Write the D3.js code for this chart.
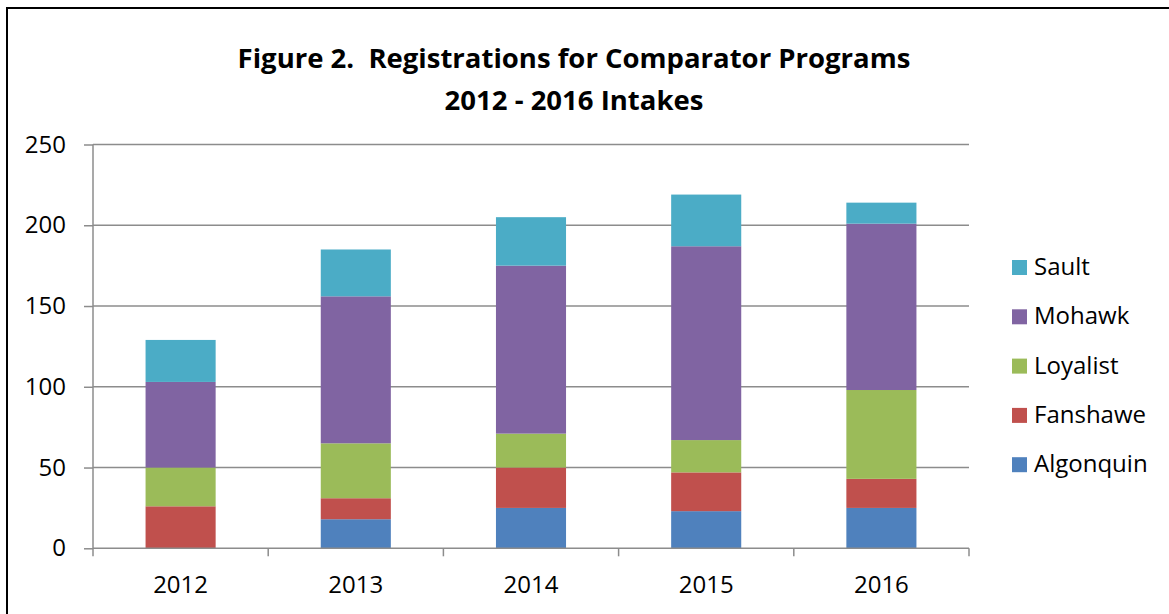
<!DOCTYPE html>
<html>
<head>
<meta charset="utf-8">
<script src="https://cdn.jsdelivr.net/npm/d3@7"></script>
<style>
  body { margin: 0; background: #fff; }
  text { font-family: "Open Sans", sans-serif; fill: #000; }
  .title { white-space: pre; }
</style>
</head>
<body>
<div id="chart"></div>
<script>
// data
const years = ["2012", "2013", "2014", "2015", "2016"];
const colleges = ["Algonquin", "Fanshawe", "Loyalist", "Mohawk", "Sault"];
const algonquin = [0, 18, 25, 23, 25];
const fanshawe = [26, 13, 25, 24, 18];
const loyalist = [24, 34, 21, 20, 55];
const mohawk = [53, 91, 104, 120, 103];
const sault = [26, 29, 30, 32, 13];
const yTicks = [0, 50, 100, 150, 200, 250];
const colors = ["#4F81BD", "#C0504D", "#9BBB59", "#8064A2", "#4BACC6"];

const series = [algonquin, fanshawe, loyalist, mohawk, sault];
const rows = years.map((y, i) => {
  const r = { year: y };
  colleges.forEach((c, j) => r[c] = series[j][i]);
  return r;
});

const W = 1169, H = 614;
const margin = { top: 144.5, right: 200, bottom: 65.7, left: 93 };
const width = W - margin.left - margin.right;
const height = H - margin.top - margin.bottom;

const svg = d3.select("#chart").append("svg")
  .attr("width", W)
  .attr("height", H);

// outer frame (left and top edges visible)
svg.append("rect")
  .attr("x", 7).attr("y", 8)
  .attr("width", W + 20).attr("height", H + 20)
  .attr("fill", "none").attr("stroke", "#000").attr("stroke-width", 2);

svg.append("text")
  .attr("class", "title")
  .attr("x", 574).attr("y", 68)
  .attr("text-anchor", "middle")
  .attr("font-size", 27.5).attr("font-weight", "bold")
  .text("Figure 2.  Registrations for Comparator Programs");
svg.append("text")
  .attr("class", "title")
  .attr("x", 574).attr("y", 110)
  .attr("text-anchor", "middle")
  .attr("font-size", 27.5).attr("font-weight", "bold")
  .text("2012 - 2016 Intakes");

const g = svg.append("g")
  .attr("transform", `translate(${margin.left},${margin.top})`);

const x = d3.scaleBand().domain(years).range([0, width]).padding(0);
const y = d3.scaleLinear().domain([0, 250]).range([height, 0]);
const barW = x.bandwidth() * 0.4;

// gridlines
g.append("g")
  .selectAll("line")
  .data(yTicks.filter(d => d > 0))
  .join("line")
  .attr("x1", 0).attr("x2", width)
  .attr("y1", d => y(d)).attr("y2", d => y(d))
  .attr("stroke", "#8c8c8c").attr("stroke-width", 1.5);

const stack = d3.stack().keys(colleges)(rows);

g.append("g")
  .selectAll("g")
  .data(stack)
  .join("g")
  .attr("fill", (d, i) => colors[i])
  .selectAll("rect")
  .data(d => d)
  .join("rect")
  .attr("x", d => x(d.data.year) + (x.bandwidth() - barW) / 2)
  .attr("width", barW)
  .attr("y", d => y(d[1]))
  .attr("height", d => y(d[0]) - y(d[1]));

// y axis
const yAxis = g.append("g")
  .call(d3.axisLeft(y).tickValues(yTicks).tickSize(9).tickPadding(18));
yAxis.selectAll("line, path").attr("stroke", "#8c8c8c").attr("stroke-width", 1.5);
yAxis.select(".domain").attr("d", `M0,${height}V0`);
yAxis.selectAll("text")
  .attr("font-family", "Open Sans").attr("font-size", 24).attr("fill", "#000");

// x axis with ticks at category boundaries
const xAxisG = g.append("g").attr("transform", `translate(0,${height})`);
xAxisG.append("line")
  .attr("x1", 0).attr("x2", width)
  .attr("stroke", "#8c8c8c").attr("stroke-width", 1.5);
xAxisG.selectAll(".bt")
  .data(years.concat(["end"]))
  .join("line")
  .attr("class", "bt")
  .attr("x1", (d, i) => i * x.step()).attr("x2", (d, i) => i * x.step())
  .attr("y1", 0).attr("y2", 8)
  .attr("stroke", "#8c8c8c").attr("stroke-width", 1.5);
xAxisG.selectAll(".yl")
  .data(years)
  .join("text")
  .attr("class", "yl")
  .attr("x", d => x(d) + x.bandwidth() / 2)
  .attr("y", 45)
  .attr("text-anchor", "middle")
  .attr("font-size", 24)
  .text(d => d);

// legend
const legend = svg.append("g").attr("transform", "translate(1012,260)");
const order = colleges.slice().reverse();
const items = legend.selectAll("g")
  .data(order)
  .join("g")
  .attr("transform", (d, i) => `translate(0,${i * 49.3})`);
items.append("rect")
  .attr("width", 15).attr("height", 15)
  .attr("fill", d => colors[colleges.indexOf(d)]);
items.append("text")
  .attr("x", 22).attr("y", 15)
  .attr("font-size", 24)
  .text(d => d);
</script>
</body>
</html>
